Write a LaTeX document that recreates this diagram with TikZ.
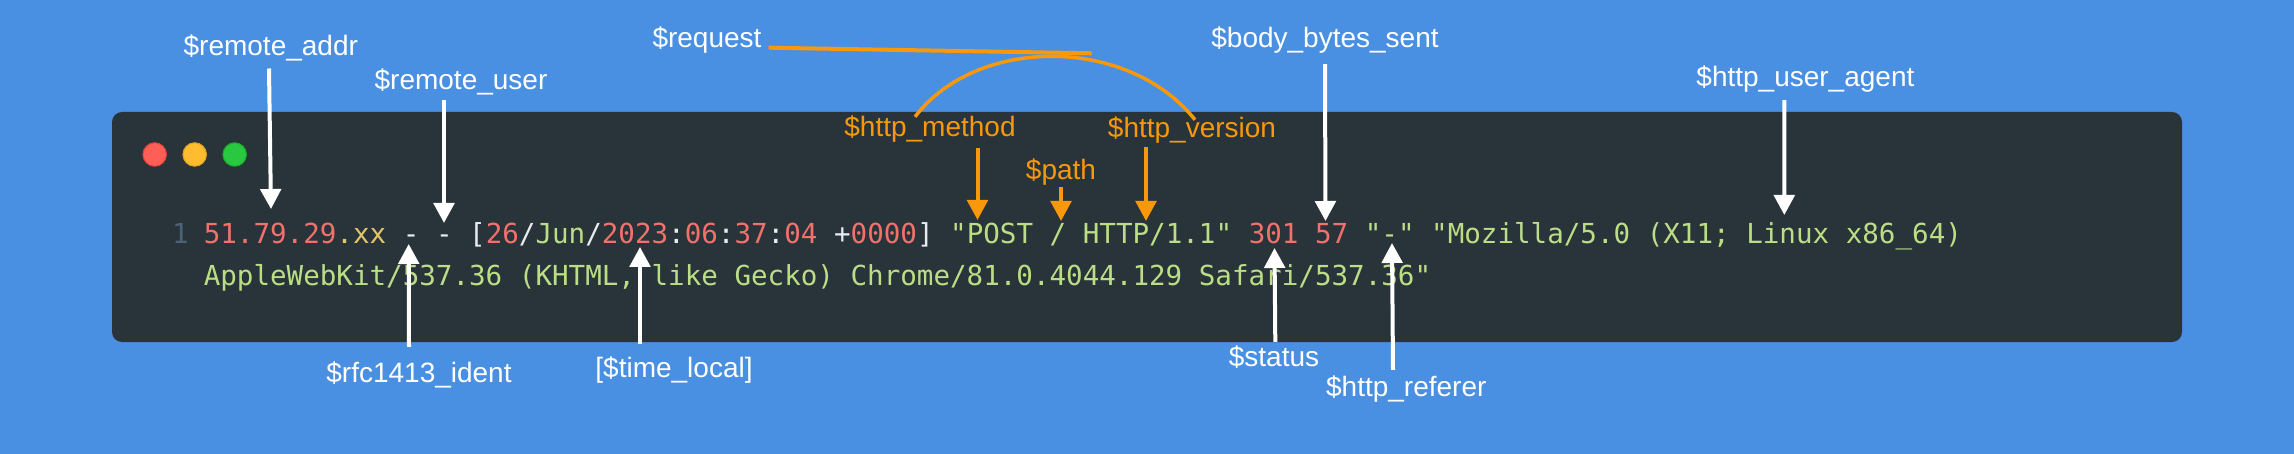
\documentclass[tikz,border=0pt]{standalone}
\usepackage{fontspec}
\setmainfont{Liberation Sans}
\newfontfamily\codefont{DejaVu Sans Mono}
\usetikzlibrary{positioning,calc,arrows.meta}
\definecolor{bgblue}{HTML}{4A90E2}
\definecolor{cardgrey}{HTML}{29333A}
\definecolor{codegreen}{HTML}{BBDE85}
\definecolor{codered}{HTML}{F2716A}
\definecolor{codeyellow}{HTML}{E3C56A}
\definecolor{codegrey}{HTML}{4D6375}
\definecolor{codewhite}{HTML}{E8ECEF}
\definecolor{markorange}{HTML}{F8980A}
\newcommand{\rd}[1]{\textcolor{codered}{#1}}
\newcommand{\wh}[1]{\textcolor{codewhite}{#1}}
\tikzset{
  >={Triangle[width=20.5pt,length=20pt]},
  var label/.style={
    inner sep=0pt,
    anchor=base,
    text height=22pt,
    text depth=6pt,
    font=\fontsize{28}{34}\selectfont,
    text=white
  },
  req label/.style={
    var label,
    text=markorange
  },
  code line/.style={
    inner sep=0pt,
    anchor=base west,
    font=\codefont\fontsize{27.55}{34}\selectfont,
    text=codegreen
  },
  var arrow/.style={->,line width=4pt,draw=white},
  req arrow/.style={->,line width=4pt,draw=markorange},
  req line/.style={line width=4pt,draw=markorange},
  req curve/.style={line width=3.5pt,draw=markorange},
  win dot/.style={circle,minimum size=23.5pt,inner sep=0pt,line width=1pt}
}
\begin{document}
\begin{tikzpicture}[x=1pt,y=-1pt]
\fill[bgblue] (0,0) rectangle (2294,454);
\fill[cardgrey,rounded corners=10pt] (112,112) rectangle (2182,342);
% Window buttons
\node[win dot,fill={rgb,255:red,255;green,95;blue,87},draw={rgb,255:red,224;green,68;blue,62}] (red) at (154.7,154.5) {};
\node[win dot,fill={rgb,255:red,254;green,188;blue,46},draw={rgb,255:red,222;green,161;blue,35}] (amber) at (194.7,154.5) {};
\node[win dot,fill={rgb,255:red,40;green,200;blue,64},draw={rgb,255:red,26;green,171;blue,41}] (lime) at (234.7,154.5) {};
% Code lines
\node[code line,text=codegrey] (num) at (172,244) {1};
\node[code line] (first) at (203.6,244) {\rd{51.79.29}\textcolor{codeyellow}{.xx} \wh{- - [}\rd{26}\wh{/}Jun\wh{/}\rd{2023}\wh{:}\rd{06}\wh{:}\rd{37}\wh{:}\rd{04} \wh{+}\rd{0000}\wh{]} "POST / HTTP/1.1" \rd{301} \rd{57} "-" "Mozilla/5.0 (X11; Linux x86\_64)};
\node[code line] (second) at (203.6,286) {AppleWebKit/537.36 (KHTML, like Gecko) Chrome/81.0.4044.129 Safari/537.36"};
% Labels above
\node[var label] (addr) at (270.8,56) {\$remote\_addr};
\node[var label] (user) at (461,90) {\$remote\_user};
\node[var label] (body) at (1325,48) {\$body\_bytes\_sent};
\node[var label] (agent) at (1805.4,87) {\$http\_user\_agent};
% Labels below
\node[var label] (ident) at (419,382) {\$rfc1413\_ident};
\node[var label] (time) at (674,377) {[\$time\_local]};
\node[var label] (status) at (1274,366) {\$status};
\node[var label] (referer) at (1406.3,396) {\$http\_referer};
% Request labels
\node[var label] (request) at (707,48) {\$request};
\node[req label] (method) at (930,137) {\$http\_method};
\node[req label] (path) at (1061,180) {\$path};
\node[req label] (version) at (1192,138) {\$http\_version};
% Arrow tips
\coordinate (addr tip) at (271,209);
\coordinate (user tip) at (444,223);
\coordinate (body tip) at (1325.5,221);
\coordinate (agent tip) at (1784.3,215);
\coordinate (ident tip) at (408.7,244);
\coordinate (time tip) at (640,247);
\coordinate (status tip) at (1274.5,248);
\coordinate (referer tip) at (1392,243);
\coordinate (method tip) at (977.5,220);
\coordinate (path tip) at (1061,221);
\coordinate (version tip) at (1146,221);
\coordinate (request end) at (1091.7,53.3);
% White arrows
\draw[var arrow] ([xshift=-1.8pt,yshift=-6.3pt]addr.south) -- (addr tip);
\draw[var arrow] ([xshift=-17pt,yshift=-4pt]user.south) -- (user tip);
\draw[var arrow] ([yshift=-10pt]body.south) -- (body tip);
\draw[var arrow] ([xshift=-21.1pt,yshift=-7pt]agent.south) -- (agent tip);
\draw[var arrow] ([xshift=-10pt,yshift=13pt]ident.north) -- (ident tip);
\draw[var arrow] ([xshift=-34pt,yshift=11pt]time.north) -- (time tip);
\draw[var arrow] ([xshift=1.3pt,yshift=2pt]status.north) -- (status tip);
\draw[var arrow] ([xshift=-13.3pt,yshift=4pt]referer.north) -- (referer tip);
% Orange arrows
\draw[req arrow] ([xshift=47.5pt,yshift=-5pt]method.south) -- (method tip);
\draw[req arrow] ([yshift=-1pt]path.south) -- (path tip);
\draw[req arrow] ([xshift=-46pt,yshift=-3pt]version.south) -- (version tip);
\draw[req line] ([xshift=7pt,yshift=-7.7pt]request.east) -- (request end);
\draw[req curve] ([xshift=-15pt,yshift=-2pt]method.north) .. controls (977,35.7) and (1128,35.7) .. ([xshift=3pt,yshift=-4pt]version.north);
\end{tikzpicture}
\end{document}
